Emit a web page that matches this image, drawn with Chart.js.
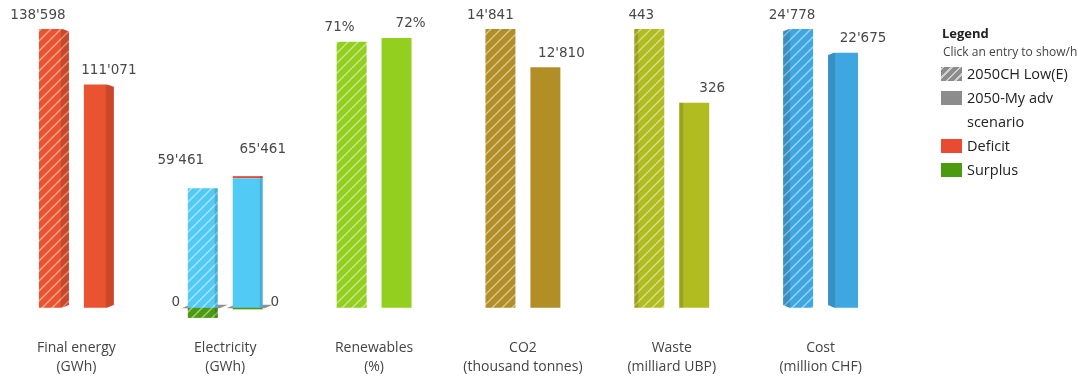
<!DOCTYPE html>
<html>
<head>
<meta charset="utf-8">
<script src="https://cdn.jsdelivr.net/npm/chart.js@4/dist/chart.umd.min.js"></script>
<style>
  html, body { margin: 0; padding: 0; background: #fff; overflow: hidden; }
  #wrap { position: relative; width: 1078px; height: 376px; overflow: hidden; }
  #c { position: absolute; left: 0; top: 0; }
  #legend { position: absolute; left: 941px; top: 24px; width: 200px; font-family: "Open Sans", sans-serif; color: #222; }
  #legend .title { font-weight: bold; font-size: 13px; margin-left: 1px; height: 18px; line-height: 18px; }
  #legend .sub { font-size: 12px; color: #444; margin-left: 2px; height: 20px; line-height: 20px; white-space: nowrap; }
  #legend .item { position: relative; font-size: 14.5px; line-height: 24px; padding-left: 26px; }
  #legend .box { position: absolute; left: 0; top: 5px; width: 21px; height: 14px; }
</style>
</head>
<body>
<div id="wrap">
  <canvas id="c" width="1078" height="376"></canvas>
  <div id="legend"></div>
</div>
<script>
// ---- data ----
const categories = [
  ['Final energy', '(GWh)'],
  ['Electricity', '(GWh)'],
  ['Renewables', '(%)'],
  ['CO2', '(thousand tonnes)'],
  ['Waste', '(milliard UBP)'],
  ['Cost', '(million CHF)']
];
const seriesNames = ['2050CH Low(E)', '2050-My adv scenario', 'Deficit', 'Surplus'];
const lowE   = [138598, 59461, 71, 14841, 443, 24778];
const myAdv  = [111071, 65461, 72, 12810, 326, 22675];
const lowESurplus  = [null, -5000, null, null, null, null];
const lowEDeficit  = [null, 0, null, null, null, null];
const myAdvDeficit = [null, 1000, null, null, null, null];
const myAdvSurplus = [null, 0, null, null, null, null];
const units = ['', '', '%', '', '', ''];
// each indicator has its own scale (top of the value axis per group)
const groupScale = [138598, 138598, 74.4, 14841, 443, 24778];

// ---- styles ----
const groupColors = ['#e9532f', '#52caf6', '#92cf1f', '#b28e27', '#b1bc21', '#3ea6e1'];
const deficitColor = '#e84a32';
const surplusColor = '#4c9a0f';
const sideWidth = [8, 3, 0, 0, 4, 7];

function norm(v, i) { return (v === null || v === undefined) ? null : v / groupScale[i]; }
function fmt(v, i) {
  const s = Math.round(Math.abs(v)).toString().replace(/\B(?=(\d{3})+(?!\d))/g, "'");
  return (v < 0 ? '-' : '') + s + units[i];
}
function hatch(color) {
  const c = document.createElement('canvas');
  c.width = 10; c.height = 10;
  const g = c.getContext('2d');
  g.fillStyle = color; g.fillRect(0, 0, 10, 10);
  g.strokeStyle = 'rgba(255,255,255,0.5)';
  g.lineWidth = 1.4;
  g.beginPath();
  g.moveTo(-2, 12); g.lineTo(12, -2);
  g.moveTo(-2, 2); g.lineTo(2, -2);
  g.moveTo(8, 12); g.lineTo(12, 8);
  g.stroke();
  return g.createPattern(c, 'repeat');
}

const ctx = document.getElementById('c').getContext('2d');

const datasets = [
  { label: seriesNames[0], stack: 'low', data: lowE.map((v, i) => norm(v, i)),
    backgroundColor: groupColors.map(hatch) },
  { label: seriesNames[3] + ' low', stack: 'low', data: lowESurplus.map(norm),
    backgroundColor: hatch(surplusColor) },
  { label: seriesNames[2] + ' low', stack: 'low', data: lowEDeficit.map(norm),
    backgroundColor: deficitColor },
  { label: seriesNames[1], stack: 'adv', data: myAdv.map((v, i) => norm(v - (myAdvDeficit[i] || 0), i)),
    backgroundColor: groupColors },
  { label: seriesNames[2], stack: 'adv', data: myAdvDeficit.map(norm),
    backgroundColor: deficitColor },
  { label: seriesNames[3], stack: 'adv', data: myAdvSurplus.map(norm),
    backgroundColor: surplusColor }
];
datasets.forEach(d => { d.barPercentage = 0.667; d.categoryPercentage = 0.604; d.borderWidth = 0; });

function props(el) { return el.getProps(['x', 'y', 'base', 'width'], true); }

const deco = {
  id: 'deco',
  beforeDatasetsDraw(chart) {
    const c = chart.ctx;
    const metaLow = chart.getDatasetMeta(0), metaAdv = chart.getDatasetMeta(3);
    [[metaLow, lowEDeficit], [metaAdv, myAdvSurplus]].forEach(([meta, arr]) => {
      arr.forEach((v, i) => {
        if (v !== 0) return;
        const p = props(meta.data[i]);
        const l = p.x - p.width / 2, r = p.x + p.width / 2;
        c.save();
        c.fillStyle = '#8f8f8f';
        c.beginPath();
        c.moveTo(l - 6, p.base + 0.5);
        c.lineTo(l + 2, p.base - 3);
        c.lineTo(r + 10, p.base - 3);
        c.lineTo(r + 2, p.base + 0.5);
        c.closePath();
        c.fill();
        c.restore();
      });
    });
  },
  afterDatasetsDraw(chart) {
    const c = chart.ctx;
    chart.data.datasets.forEach((ds, di) => {
      const meta = chart.getDatasetMeta(di);
      meta.data.forEach((el, i) => {
        const p = props(el);
        const s = sideWidth[i];
        if (!s || ds.data[i] === null || Math.abs(p.y - p.base) < 0.5) return;
        const top = Math.min(p.y, p.base), bot = Math.max(p.y, p.base);
        const l = p.x - p.width / 2, r = p.x + p.width / 2;
        const rightSide = i < 3;
        const x0 = rightSide ? r - s : l;
        c.save();
        c.fillStyle = 'rgba(0,0,0,0.13)';
        c.fillRect(x0, top, s, bot - top);
        if (s >= 5 && bot - top > 10) {
          c.fillStyle = '#ffffff';
          const outer = rightSide ? r + 0.5 : l - 0.5;
          const inner = rightSide ? r - s : l + s;
          c.beginPath();
          c.moveTo(inner, top - 0.5); c.lineTo(outer, top - 0.5); c.lineTo(outer, top + 2.5); c.closePath(); c.fill();
          c.beginPath();
          c.moveTo(inner, bot + 0.5); c.lineTo(outer, bot + 0.5); c.lineTo(outer, bot - 3); c.closePath(); c.fill();
        }
        c.restore();
      });
    });
    const metaAdv = chart.getDatasetMeta(3);
    myAdvSurplus.forEach((v, i) => {
      if (v !== 0) return;
      const p = props(metaAdv.data[i]);
      c.save();
      c.fillStyle = surplusColor;
      c.fillRect(p.x - p.width / 2, p.base, p.width, 1.5);
      c.restore();
    });
    // value labels
    c.save();
    c.font = '13.5px "DejaVu Sans", sans-serif';
    c.fillStyle = '#484848';
    c.textAlign = 'center';
    c.textBaseline = 'middle';
    const metaLow = chart.getDatasetMeta(0);
    lowE.forEach((v, i) => {
      const p = props(metaLow.data[i]);
      const hasExtra = (lowESurplus[i] !== null || lowEDeficit[i] !== null);
      c.fillText(fmt(v, i), p.x - 16 + 2 * i - (hasExtra ? 8 : 0), p.y - 14 - (hasExtra ? 14 : 0));
    });
    myAdv.forEach((v, i) => {
      const p = props(metaAdv.data[i]);
      const hasExtra = (myAdvDeficit[i] !== null);
      c.fillText(fmt(v, i), p.x + 10 + 2 * i + (hasExtra ? 3 : 0), p.y - 14 - (hasExtra ? 15 : 0));
    });
    lowEDeficit.forEach((v, i) => {
      if (v === null) return;
      const p = props(metaLow.data[i]);
      c.fillText(fmt(v, i), p.x - p.width / 2 - 12, p.base - 5);
    });
    myAdvSurplus.forEach((v, i) => {
      if (v === null) return;
      const p = props(metaAdv.data[i]);
      c.fillText(fmt(v, i), p.x + p.width / 2 + 12, p.base - 5);
    });
    c.restore();
  }
};

new Chart(ctx, {
  type: 'bar',
  data: { labels: categories, datasets },
  options: {
    responsive: false,
    animation: false,
    events: [],
    layout: { padding: { top: 29, left: 2, right: 183, bottom: 0 } },
    plugins: { legend: { display: false }, tooltip: { enabled: false } },
    scales: {
      x: {
        stacked: true,
        grid: { display: false, drawTicks: false },
        border: { display: false },
        ticks: {
          padding: 20,
          color: '#444',
          font: { family: '"Open Sans", sans-serif', size: 14, lineHeight: 19 / 14 },
          maxRotation: 0, autoSkip: false
        },
        afterFit(scale) { scale.height = 57; }
      },
      y: { stacked: true, display: false, min: -0.04, max: 1 }
    }
  },
  plugins: [deco]
});

// ---- HTML legend ----
const lg = document.getElementById('legend');
const legendItems = [
  { text: '2050CH Low(E)', bg: 'repeating-linear-gradient(-45deg, #8c8c8c 0 4px, #d0d0d0 4px 6px)' },
  { text: '2050-My adv<br>scenario', bg: '#8c8c8c' },
  { text: 'Deficit', bg: deficitColor },
  { text: 'Surplus', bg: surplusColor }
];
let html = '<div class="title">Legend</div><div class="sub">Click an entry to show/hide</div>';
legendItems.forEach(it => {
  html += '<div class="item"><span class="box" style="background:' + it.bg + '"></span>' + it.text + '</div>';
});
lg.innerHTML = html;
</script>
</body>
</html>
